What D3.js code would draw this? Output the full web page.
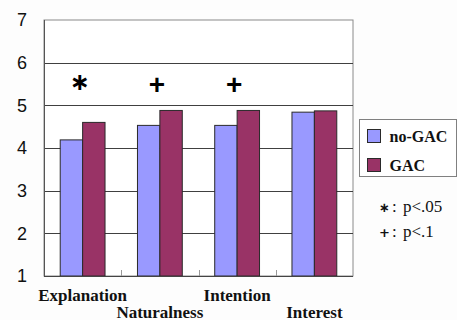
<!DOCTYPE html>
<html>
<head>
<meta charset="utf-8">
<script src="https://cdn.jsdelivr.net/npm/d3@7/dist/d3.min.js"></script>
<style>
  html, body { margin: 0; padding: 0; background: #fdfdfd; }
  svg { display: block; }
</style>
</head>
<body>
<svg id="chart"></svg>
<script>
const categories = ["Explanation", "Naturalness", "Intention", "Interest"];
const series = ["no-GAC", "GAC"];
const noGac = [4.19, 4.53, 4.53, 4.84];
const gac = [4.60, 4.88, 4.88, 4.87];
const marks = ["∗", "+", "+", ""];
const yTicks = [1, 2, 3, 4, 5, 6, 7];
const notes = [["∗", "p<.05"], ["+", "p<.1"]];

const COL_NO = "#9999ff";
const COL_GAC = "#993366";

const width = 457, height = 320;
const plot = {left: 44, right: 353, top: 20, bottom: 276};

const svg = d3.select("#chart")
    .attr("width", width)
    .attr("height", height);

// scales
const x = d3.scaleBand()
    .domain(categories)
    .range([plot.left, plot.right]);

const gap = 0.21; // space each side of a bar pair, as part of the band
const xs = d3.scaleBand()
    .domain(series)
    .range([x.bandwidth() * gap, x.bandwidth() * (1 - gap)]);

const y = d3.scaleLinear()
    .domain([1, 7])
    .range([plot.bottom, plot.top]);

// plot area
svg.append("rect")
    .attr("x", plot.left).attr("y", plot.top)
    .attr("width", plot.right - plot.left)
    .attr("height", plot.bottom - plot.top)
    .attr("fill", "#ffffff")
    .attr("stroke", "#8a8a8a");

// gridlines
svg.append("g")
    .selectAll("line")
    .data(yTicks.filter(d => d > 1 && d < 7))
    .join("line")
    .attr("x1", plot.left).attr("x2", plot.right)
    .attr("y1", d => Math.round(y(d)) + 0.5)
    .attr("y2", d => Math.round(y(d)) + 0.5)
    .attr("stroke", "#404040");

// y labels
svg.append("g")
    .selectAll("text")
    .data(yTicks)
    .join("text")
    .attr("x", 27)
    .attr("y", d => y(d))
    .attr("dy", "0.36em")
    .attr("text-anchor", "end")
    .attr("font-family", "'Liberation Sans', Arial, sans-serif")
    .attr("font-size", 18)
    .attr("fill", "#111")
    .text(d => d);

// bars
const rows = categories.map((c, i) => ({cat: c, vals: [noGac[i], gac[i]]}));
const group = svg.append("g")
    .selectAll("g")
    .data(rows)
    .join("g")
    .attr("transform", d => `translate(${x(d.cat)},0)`);

group.selectAll("rect")
    .data(d => d.vals.map((v, j) => ({s: series[j], v: v})))
    .join("rect")
    .attr("x", d => xs(d.s))
    .attr("y", d => y(d.v))
    .attr("width", xs.bandwidth())
    .attr("height", d => y(1) - y(d.v))
    .attr("fill", d => d.s === "GAC" ? COL_GAC : COL_NO)
    .attr("stroke", "#2a2a2a")
    .attr("stroke-width", 1);

// axes lines
svg.append("line")
    .attr("x1", plot.left + 0.5).attr("x2", plot.left + 0.5)
    .attr("y1", plot.top).attr("y2", plot.bottom)
    .attr("stroke", "#555");
svg.append("line")
    .attr("x1", plot.left).attr("x2", plot.right)
    .attr("y1", plot.bottom + 0.5).attr("y2", plot.bottom + 0.5)
    .attr("stroke", "#444");

// inside ticks between categories
svg.append("g")
    .selectAll("line")
    .data(categories.slice(1))
    .join("line")
    .attr("x1", d => Math.round(x(d)) + 0.5)
    .attr("x2", d => Math.round(x(d)) + 0.5)
    .attr("y1", plot.bottom)
    .attr("y2", plot.bottom - 6)
    .attr("stroke", "#999");

// x labels, staggered
svg.append("g")
    .selectAll("text")
    .data(categories)
    .join("text")
    .attr("x", d => x(d) + x.bandwidth() / 2)
    .attr("y", (d, i) => i % 2 ? 317.5 : 301)
    .attr("text-anchor", "middle")
    .attr("font-family", "'Liberation Serif', 'Times New Roman', serif")
    .attr("font-weight", "bold")
    .attr("font-size", 17)
    .attr("fill", "#111")
    .text(d => d);

// significance marks
svg.append("g")
    .selectAll("text")
    .data(categories.map((c, i) => ({cat: c, m: marks[i]})).filter(d => d.m))
    .join("text")
    .attr("x", d => x(d.cat) + x.bandwidth() / 2 - 3)
    .attr("y", d => d.m === "+" ? y(5.5) : y(5.57))
    .attr("dy", d => d.m === "+" ? "0.35em" : "0.38em")
    .attr("text-anchor", "middle")
    .attr("font-family", d => d.m === "+" ? "'Liberation Sans', Arial, sans-serif" : "'DejaVu Sans', sans-serif")
    .attr("font-weight", "bold")
    .attr("font-size", d => d.m === "+" ? 28 : 24)
    .attr("fill", "#000")
    .text(d => d.m);

// legend
const legend = svg.append("g").attr("transform", "translate(359.5,119.5)");
legend.append("rect")
    .attr("width", 97).attr("height", 57)
    .attr("fill", "#ffffff")
    .attr("stroke", "#808080");
const item = legend.selectAll("g.item")
    .data(series)
    .join("g")
    .attr("class", "item")
    .attr("transform", (d, i) => `translate(8,${10 + i * 29})`);
item.append("rect")
    .attr("width", 13).attr("height", 13)
    .attr("fill", d => d === "GAC" ? COL_GAC : COL_NO)
    .attr("stroke", "#2a2a2a");
item.append("text")
    .attr("x", 22)
    .attr("y", 12)
    .attr("font-family", "'Liberation Serif', 'Times New Roman', serif")
    .attr("font-weight", "bold")
    .attr("font-size", 16)
    .attr("fill", "#111")
    .text(d => d);

// notes
const note = svg.append("g")
    .selectAll("text")
    .data(notes)
    .join("text")
    .attr("x", 379)
    .attr("y", (d, i) => 211.5 + i * 25)
    .attr("font-family", "'Liberation Serif', 'Times New Roman', serif")
    .attr("font-size", 17)
    .attr("fill", "#111");
note.append("tspan")
    .attr("font-family", "'DejaVu Sans', sans-serif")
    .attr("font-weight", "bold")
    .attr("font-size", 13)
    .text(d => d[0]);
note.append("tspan")
    .attr("dx", 2)
    .text(":");
note.append("tspan")
    .attr("x", 403)
    .text(d => d[1]);
</script>
</body>
</html>
